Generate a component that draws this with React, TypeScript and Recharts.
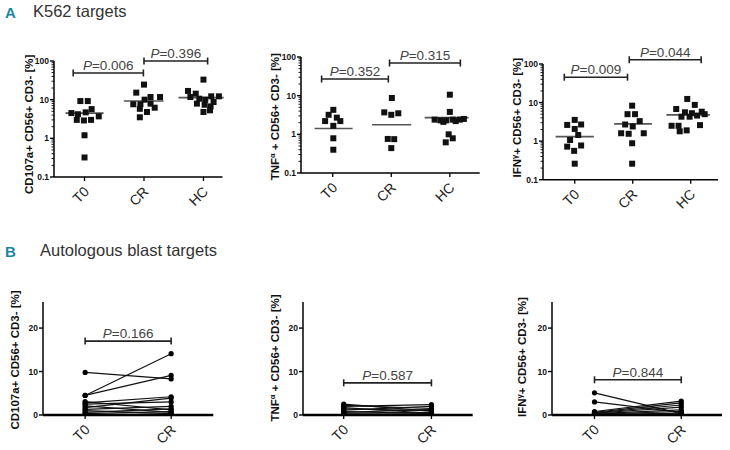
import React from 'react'
import { ComposedChart, Scatter, Line, XAxis, YAxis, ReferenceLine } from 'recharts'

const k562Groups = ['T0', 'CR', 'HC']
const blastGroups = ['T0', 'CR']
const logMajor = [0.1, 1, 10, 100]
const logMinor = [0.2, 0.3, 0.4, 0.5, 0.6, 0.7, 0.8, 0.9, 2, 3, 4, 5, 6, 7, 8, 9, 20, 30, 40, 50, 60, 70, 80, 90]
const linMajor = [0, 10, 20]

// K562 targets, CD107a
const cd107aT0 = [9.2, 9.2, 5.7, 4.5, 4.7, 4.2, 3.0, 2.9, 3.0, 3.7, 1.2, 0.32]
const cd107aCR = [24.5, 15.2, 11.7, 10, 11.7, 7.6, 7.6, 7.9, 6.2, 5.8, 4.8, 3.5]
const cd107aHC = [33, 16.8, 14.3, 12.2, 12.2, 11.7, 10.6, 10, 8.7, 7.9, 7.4, 6.7, 4.8, 5.3]
const cd107aMedians = [4.5, 9.2, 11.3]
const cd107aP = ['0.006', '0.396']

// K562 targets, TNFa
const tnfT0 = [4.3, 3.2, 2.7, 2.2, 2.2, 1.66, 0.79, 0.4]
const tnfCR = [8.7, 3.7, 3.2, 3.5, 0.76, 0.75, 0.44]
const tnfHC = [10.6, 3.8, 2.4, 2.3, 2.3, 2.4, 2.4, 2.5, 2.1, 1.0, 0.79, 0.62, 2.2]
const tnfMedians = [1.42, 1.77, 2.7]
const tnfP = ['0.352', '0.315']

// K562 targets, IFNg
const ifnT0 = [3.55, 2.63, 2.7, 2.07, 1.44, 1.07, 0.72, 0.77, 0.56, 0.26]
const ifnCR = [8.3, 5.0, 5.0, 3.3, 2.7, 2.4, 1.6, 1.55, 1.6, 0.88, 0.26]
const ifnHC = [12.4, 8.7, 6.8, 5.6, 5.3, 5.8, 5.0, 4.3, 4.3, 4.6, 2.5, 2.5, 2.6, 1.8, 1.9]
const ifnMedians = [1.31, 2.8, 4.8]
const ifnP = ['0.009', '0.044']

// autologous blast targets, paired T0 -> CR
const blastCd107aT0 = [9.8, 4.5, 4.5, 3.1, 2.8, 2.5, 2.1, 1.7, 1.3, 1.0, 0.6, 0.3, 0.1]
const blastCd107aCR = [8.3, 14.1, 9.1, 1.2, 4.2, 3.0, 0.6, 3.9, 2.0, 0.3, 1.4, 0.8, 0.2]
const blastTnfT0 = [2.5, 2.2, 2.0, 1.7, 1.4, 1.1, 0.8, 0.6, 0.4, 0.2]
const blastTnfCR = [0.9, 1.5, 2.4, 0.4, 1.0, 2.0, 0.3, 1.3, 0.6, 0.2]
const blastIfnT0 = [5.1, 3.0, 0.8, 0.6, 0.5, 0.4, 0.3, 0.2, 0.15, 0.1]
const blastIfnCR = [0.3, 0.6, 3.2, 2.8, 2.3, 1.8, 1.2, 0.8, 0.4, 0.2]
const blastP = ['0.166', '0.587', '0.844']

// horizontal scatter offsets of the points (layout only)
const jitterA1 = [
  [-0.07, 0.055, 0.12, -0.22, 0.02, -0.11, -0.13, -0.01, 0.11, 0.24, 0, 0],
  [0, -0.13, 0.27, 0.01, 0.11, -0.18, -0.06, 0.11, 0.18, -0.07, 0.05, -0.07],
  [0, -0.26, -0.13, 0.13, 0.26, -0.22, -0.07, 0.03, 0.17, -0.11, 0.02, 0.12, 0, 0.11],
]
const jitterA2 = [
  [0.01, -0.07, 0.07, -0.13, 0.13, 0.01, 0.01, 0.01],
  [0.01, -0.12, 0, 0.12, -0.06, 0.05, 0],
  [0, 0, -0.26, -0.16, -0.06, 0.05, 0.17, 0.24, -0.11, -0.02, 0.05, -0.07, 0.1],
]
const jitterA3 = [
  [0, -0.13, 0.11, 0, 0.06, -0.08, -0.13, 0.11, -0.01, 0],
  [-0.01, -0.09, 0.04, 0.12, -0.13, 0, -0.2, -0.07, 0.19, -0.01, -0.01],
  [-0.06, 0.07, -0.25, -0.1, 0.02, 0.19, 0.24, -0.16, -0.02, 0.11, -0.33, -0.21, 0.16, -0.19, -0.07],
]

const PAD_L = 60
const PAD_T = 30
const PAD_R = 15
const PAD_B = 50
const FONT = '"Liberation Sans", Arial, sans-serif'

type Box = { x1: number; x2: number; y1: number; y2: number }
type Bracket = { a: number; b: number; y: number; p: string }

function CatTick(props: any) {
  const { x, y, payload, names } = props
  const label = names[Math.round(payload.value) - 1]
  const ex = Number(x) + 5.5
  const ey = Number(y) + 15.5
  return (
    <g>
      <line x1={x} x2={x} y1={y} y2={Number(y) + 4} stroke="#000" strokeWidth={1.3} />
      <g transform={`translate(${ex},${ey}) rotate(-45)`}>
        <text x={0} y={0} textAnchor="end" fontSize={14} fontFamily={FONT} fill="#222">
          {label}
        </text>
      </g>
    </g>
  )
}

function ValTick(props: any) {
  const { x, y, payload, majors } = props
  const major = majors.includes(payload.value)
  return (
    <g>
      <line x1={x - (major ? 4 : 2.5)} x2={x} y1={y} y2={y} stroke="#000" strokeWidth={major ? 1.4 : 0.9} />
      {major && (
        <text x={x - 5} y={y + 3} textAnchor="end" fontSize={8.5} fontWeight="bold" fontFamily={FONT} fill="#111">
          {payload.value}
        </text>
      )}
    </g>
  )
}

function bracketShape(p: string) {
  return (props: any) => {
    const { x1, y1, x2 } = props
    return (
      <g>
        <line x1={x1} x2={x2} y1={y1} y2={y1} stroke="#222" strokeWidth={1.6} />
        <line x1={x1} x2={x1} y1={y1 - 3.5} y2={y1 + 3.5} stroke="#222" strokeWidth={1.6} />
        <line x1={x2} x2={x2} y1={y1 - 3.5} y2={y1 + 3.5} stroke="#222" strokeWidth={1.6} />
        <text x={(x1 + x2) / 2} y={y1 - 3} textAnchor="middle" fontSize={13.5} fontFamily={FONT} fill="#444">
          <tspan fontStyle="italic">P</tspan>={p}
        </text>
      </g>
    )
  }
}

interface PanelProps {
  box: Box
  xDomain: [number, number]
  names: string[]
  log: boolean
  title: string[]
  titleX: number
  titleY: number
  brackets: Bracket[]
  children?: React.ReactNode
}

function Panel({ box, xDomain, names, log, title, titleX, titleY, brackets, children }: PanelProps) {
  const left = box.x1 - PAD_L
  const top = box.y1 - PAD_T
  const w = box.x2 - box.x1 + PAD_L + PAD_R
  const h = box.y2 - box.y1 + PAD_T + PAD_B
  const tx = titleX - left
  const ty = titleY - top
  const yTicks = log ? [...logMajor, ...logMinor] : linMajor
  const majors = log ? logMajor : linMajor
  return (
    <div style={{ position: 'absolute', left, top }}>
      <ComposedChart width={w} height={h} margin={{ top: PAD_T, right: PAD_R, bottom: PAD_B - 40, left: PAD_L - 40 }}>
        <XAxis
          type="number"
          dataKey="x"
          domain={xDomain}
          ticks={names.map((_, i) => i + 1)}
          allowDataOverflow
          interval={0}
          height={40}
          tickSize={0}
          tickMargin={0}
          tick={<CatTick names={names} />}
          axisLine={{ stroke: '#000', strokeWidth: log ? 1.5 : 2.6 }}
        />
        <YAxis
          type="number"
          dataKey="y"
          scale={log ? 'log' : 'linear'}
          domain={log ? [0.1, 100] : [0, 26]}
          ticks={yTicks}
          allowDataOverflow
          interval={0}
          width={40}
          tickSize={0}
          tickMargin={0}
          tick={<ValTick majors={majors} />}
          axisLine={{ stroke: '#000', strokeWidth: 1.5 }}
          label={() => (
            <g transform={`translate(${tx},${ty}) rotate(-90)`}>
              <text x={0} y={0} textAnchor="middle" fontSize={11.5} fontWeight="bold" fontFamily={FONT} fill="#111">
                {title[0]}
                {title.length > 1 && (
                  <tspan dy={-4} fontSize={7.5}>
                    {title[1]}
                  </tspan>
                )}
                {title.length > 2 && <tspan dy={4}>{title[2]}</tspan>}
              </text>
            </g>
          )}
        />
        {children}
        {brackets.map((b, i) => (
          <ReferenceLine
            key={'br' + i}
            segment={[
              { x: b.a, y: b.y },
              { x: b.b, y: b.y },
            ]}
            ifOverflow="visible"
            shape={bracketShape(b.p)}
          />
        ))}
      </ComposedChart>
    </div>
  )
}

function Square(props: any) {
  const { cx, cy } = props
  return <rect x={cx - 3} y={cy - 3} width={6} height={6} fill="#111" />
}

function scatterSeries(groups: number[][], jitter: number[][], medians: number[], spans: number[][]) {
  const out: React.ReactNode[] = []
  groups.forEach((vals, g) => {
    out.push(
      <Scatter
        key={'s' + g}
        data={vals.map((v, i) => ({ x: g + 1 + jitter[g][i], y: v }))}
        shape={Square}
        isAnimationActive={false}
      />
    )
    out.push(
      <ReferenceLine
        key={'m' + g}
        segment={[
          { x: spans[g][0], y: medians[g] },
          { x: spans[g][1], y: medians[g] },
        ]}
        stroke="#555"
        strokeWidth={1.6}
        ifOverflow="visible"
      />
    )
  })
  return out
}

function pairedSeries(t0: number[], cr: number[]) {
  return t0.map((v, i) => (
    <Line
      key={'p' + i}
      data={[
        { x: 1, y: v },
        { x: 2, y: cr[i] },
      ]}
      dataKey="y"
      stroke="#111"
      strokeWidth={1.2}
      dot={{ r: 2.6, fill: '#000', stroke: '#000', strokeWidth: 0 }}
      isAnimationActive={false}
    />
  ))
}

export default function App() {
  return (
    <div style={{ position: 'absolute', left: 0, top: 0, width: 730, height: 450, background: '#fff', overflow: 'hidden' }}>
      <svg width={730} height={450} style={{ position: 'absolute', left: 0, top: 0 }}>
        <text x={5} y={18} fontSize={15} fontWeight="bold" fontFamily={FONT} fill="#1b86a4">A</text>
        <text x={33} y={17} fontSize={16.5} fontFamily={FONT} fill="#333">K562 targets</text>
        <text x={5} y={257} fontSize={15} fontWeight="bold" fontFamily={FONT} fill="#1b86a4">B</text>
        <text x={40} y={256} fontSize={16.5} fontFamily={FONT} fill="#333">Autologous blast targets</text>
      </svg>

      <Panel
        box={{ x1: 53.5, x2: 222, y1: 60.7, y2: 176.7 }}
        xDomain={[0.487, 3.32]}
        names={k562Groups}
        log
        title={['CD107a+ CD56+ CD3- [%]']}
        titleX={32}
        titleY={124}
        brackets={[
          { a: 0.81, b: 1.99, y: 49, p: cd107aP[0] },
          { a: 2.0, b: 3.07, y: 100, p: cd107aP[1] },
        ]}
      >
        {scatterSeries([cd107aT0, cd107aCR, cd107aHC], jitterA1, cd107aMedians, [[0.68, 1.32], [1.66, 2.33], [2.58, 3.34]])}
      </Panel>

      <Panel
        box={{ x1: 301.3, x2: 480, y1: 57.3, y2: 173.3 }}
        xDomain={[0.458, 3.51]}
        names={k562Groups}
        log
        title={['TNF', 'α', ' + CD56+ CD3- [%]']}
        titleX={279}
        titleY={117}
        brackets={[
          { a: 0.81, b: 1.95, y: 27, p: tnfP[0] },
          { a: 1.97, b: 3.18, y: 70, p: tnfP[1] },
        ]}
      >
        {scatterSeries([tnfT0, tnfCR, tnfHC], jitterA2, tnfMedians, [[0.69, 1.34], [1.67, 2.34], [2.57, 3.32]])}
      </Panel>

      <Panel
        box={{ x1: 543, x2: 718, y1: 64.3, y2: 180 }}
        xDomain={[0.453, 3.47]}
        names={k562Groups}
        log
        title={['IFN', 'γ', '+ CD56+ CD3- [%]']}
        titleX={521}
        titleY={118}
        brackets={[
          { a: 0.82, b: 1.91, y: 45.5, p: ifnP[0] },
          { a: 1.94, b: 3.18, y: 129, p: ifnP[1] },
        ]}
      >
        {scatterSeries([ifnT0, ifnCR, ifnHC], jitterA3, ifnMedians, [[0.67, 1.33], [1.68, 2.33], [2.58, 3.33]])}
      </Panel>

      <Panel
        box={{ x1: 42.7, x2: 213, y1: 302, y2: 415 }}
        xDomain={[0.51, 2.49]}
        names={blastGroups}
        log={false}
        title={['CD107a+ CD56+ CD3- [%]']}
        titleX={18.5}
        titleY={360}
        brackets={[{ a: 1, b: 2, y: 17, p: blastP[0] }]}
      >
        {pairedSeries(blastCd107aT0, blastCd107aCR)}
      </Panel>

      <Panel
        box={{ x1: 303.3, x2: 473, y1: 302, y2: 415 }}
        xDomain={[0.536, 2.47]}
        names={blastGroups}
        log={false}
        title={['TNF', 'α', ' + CD56+ CD3- [%]']}
        titleX={279}
        titleY={358}
        brackets={[{ a: 1, b: 2, y: 7.4, p: blastP[1] }]}
      >
        {pairedSeries(blastTnfT0, blastTnfCR)}
      </Panel>

      <Panel
        box={{ x1: 551.7, x2: 721.7, y1: 302, y2: 415 }}
        xDomain={[0.51, 2.47]}
        names={blastGroups}
        log={false}
        title={['IFN', 'γ', '+ CD56+ CD3- [%]']}
        titleX={525.5}
        titleY={357}
        brackets={[{ a: 1, b: 2, y: 8.1, p: blastP[2] }]}
      >
        {pairedSeries(blastIfnT0, blastIfnCR)}
      </Panel>
    </div>
  )
}
